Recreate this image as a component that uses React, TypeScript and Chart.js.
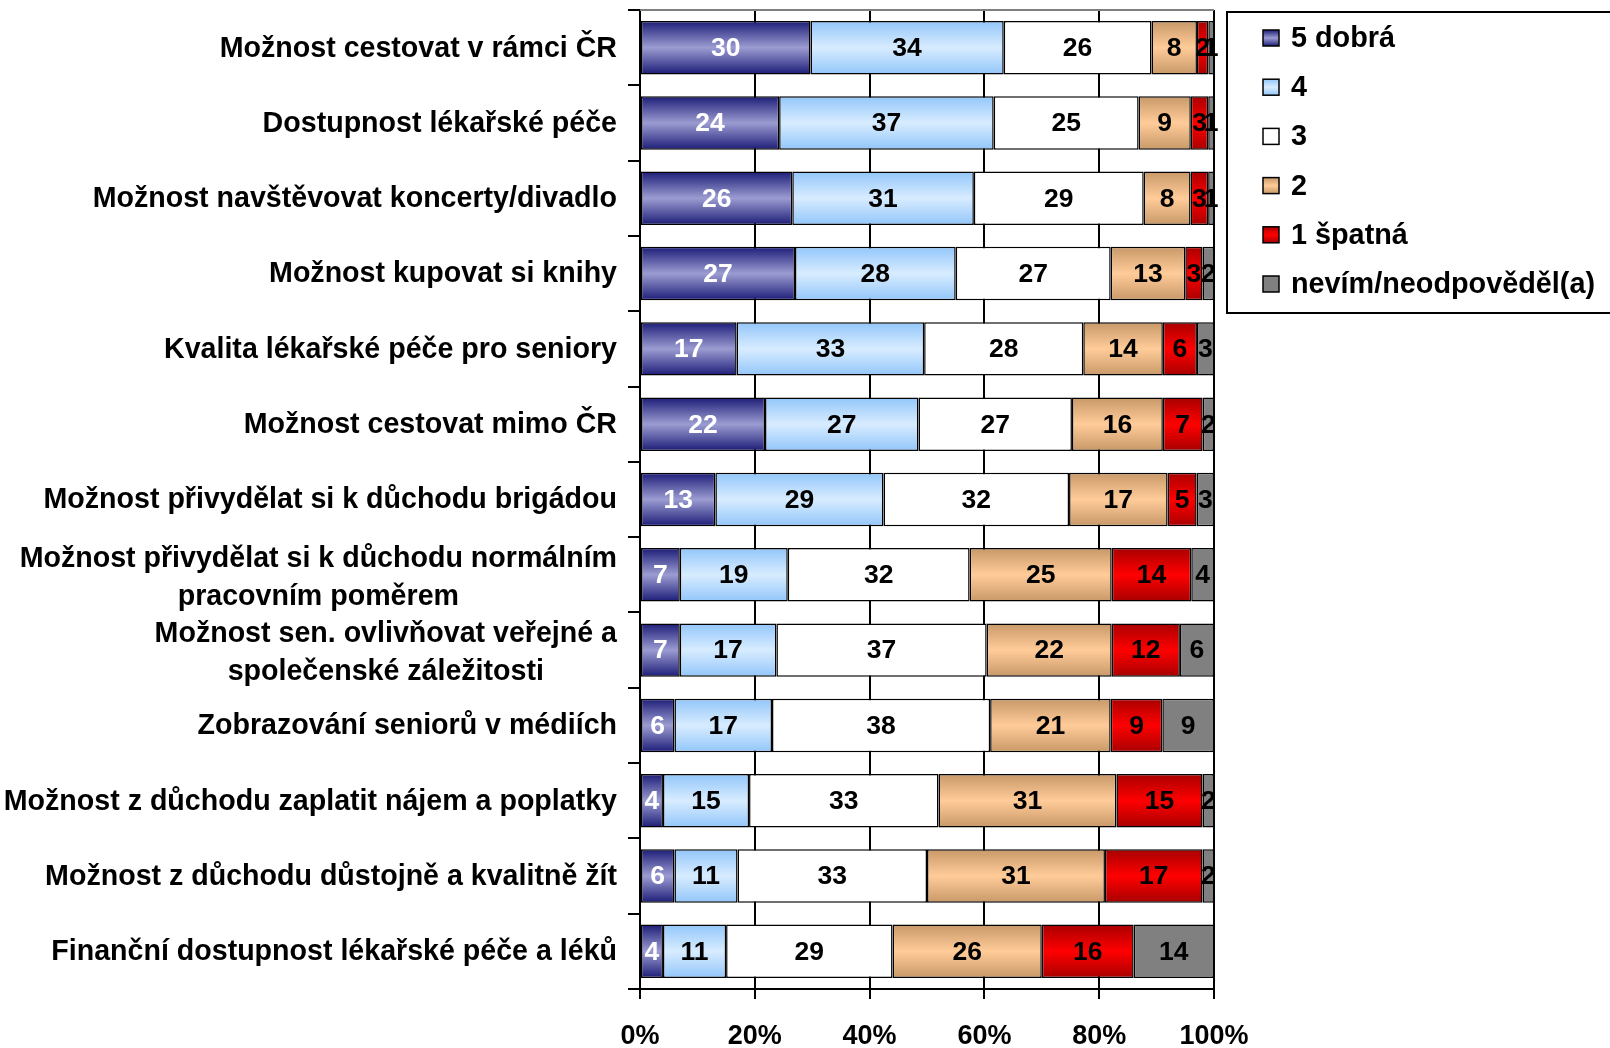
import React, { useEffect, useRef } from "react";
import { Chart, registerables } from "chart.js";

Chart.register(...registerables);

const categories: (string | string[])[] = [
  "Možnost cestovat v rámci ČR",
  "Dostupnost lékařské péče",
  "Možnost navštěvovat koncerty/divadlo",
  "Možnost kupovat si knihy",
  "Kvalita lékařské péče pro seniory",
  "Možnost cestovat mimo ČR",
  "Možnost přivydělat si k důchodu brigádou",
  ["Možnost přivydělat si k důchodu normálním", "pracovním poměrem"],
  ["Možnost sen. ovlivňovat veřejné a", "společenské záležitosti"],
  "Zobrazování seniorů v médiích",
  "Možnost z důchodu zaplatit nájem a poplatky",
  "Možnost z důchodu důstojně a kvalitně žít",
  "Finanční dostupnost lékařské péče a léků",
];

const seriesNames = ["5 dobrá", "4", "3", "2", "1 špatná", "nevím/neodpověděl(a)"];

const grade5 = [30, 24, 26, 27, 17, 22, 13, 7, 7, 6, 4, 6, 4];
const grade4 = [34, 37, 31, 28, 33, 27, 29, 19, 17, 17, 15, 11, 11];
const grade3 = [26, 25, 29, 27, 28, 27, 32, 32, 37, 38, 33, 33, 29];
const grade2 = [8, 9, 8, 13, 14, 16, 17, 25, 22, 21, 31, 31, 26];
const grade1 = [2, 3, 3, 3, 6, 7, 5, 14, 12, 9, 15, 17, 16];
const dontKnow = [1, 1, 1, 2, 3, 2, 3, 4, 6, 9, 2, 2, 14];

const xTicks = [0, 20, 40, 60, 80, 100];

const seriesValues = [grade5, grade4, grade3, grade2, grade1, dontKnow];

// [edge colour, middle colour]
const seriesColors: [string, string][] = [
  ["#1c1c78", "#9c9cd2"],
  ["#92c6fa", "#d8ecff"],
  ["#ffffff", "#ffffff"],
  ["#c89868", "#ffcc99"],
  ["#a80000", "#ff0000"],
  ["#808080", "#808080"],
];

const labelColors = ["#ffffff", "#000000", "#000000", "#000000", "#000000", "#000000"];

const FONT = "'Liberation Sans', Arial, Helvetica, sans-serif";
const BAR_PCT = 0.71;

const rowTotals = categories.map((_, i) =>
  seriesValues.reduce((s, arr) => s + arr[i], 0)
);

function gradient(ctx: CanvasRenderingContext2D, y0: number, y1: number, colors: [string, string]) {
  const g = ctx.createLinearGradient(0, y0, 0, y1);
  g.addColorStop(0, colors[0]);
  g.addColorStop(0.5, colors[1]);
  g.addColorStop(1, colors[0]);
  return g;
}

const makeBg = (colors: [string, string]) => (c: any) => {
  const chart = c.chart;
  const ys = chart.scales && chart.scales.y;
  if (!ys || c.dataIndex === undefined || !isFinite(ys.height)) return colors[1];
  const cy = ys.getPixelForValue(c.dataIndex);
  const h = (ys.height / categories.length) * BAR_PCT;
  return gradient(chart.ctx, cy - h / 2, cy + h / 2, colors);
};

const segLabelPlugin = {
  id: "segLabels",
  afterDatasetsDraw(chart: any) {
    const ctx = chart.ctx;
    ctx.save();
    ctx.font = `bold 26.5px ${FONT}`;
    ctx.textAlign = "center";
    ctx.textBaseline = "middle";
    chart.data.datasets.forEach((ds: any, di: number) => {
      const meta = chart.getDatasetMeta(di);
      meta.data.forEach((el: any, i: number) => {
        const { x, y, base } = el.getProps(["x", "y", "base"], true);
        ctx.fillStyle = labelColors[di];
        ctx.fillText(String(seriesValues[di][i]), (x + base) / 2, y + 1);
      });
    });
    ctx.restore();
  },
};

const yLabelPlugin = {
  id: "yLabels",
  afterDraw(chart: any) {
    const ys = chart.scales.y;
    const ctx = chart.ctx;
    ctx.save();
    ctx.font = `bold 28.6px ${FONT}`;
    ctx.fillStyle = "#000";
    ctx.textBaseline = "middle";
    ctx.textAlign = "center";
    const right = ys.right - 23;
    categories.forEach((lab, i) => {
      const lines = Array.isArray(lab) ? lab : [lab];
      const w = Math.max(...lines.map((l) => ctx.measureText(l).width));
      const cx = right - w / 2;
      const cy = ys.getPixelForValue(i) + (lines.length > 1 ? 3 : 1);
      const lh = 38;
      lines.forEach((l, k) => ctx.fillText(l, cx, cy + (k - (lines.length - 1) / 2) * lh));
    });
    ctx.restore();
  },
};

const framePlugin = {
  id: "frame",
  beforeDatasetsDraw(chart: any) {
    const { ctx, chartArea } = chart;
    ctx.save();
    ctx.strokeStyle = "#808080";
    ctx.lineWidth = 2;
    ctx.beginPath();
    ctx.moveTo(chartArea.left, chartArea.top);
    ctx.lineTo(chartArea.right, chartArea.top);
    ctx.stroke();
    ctx.restore();
  },
};

const legendPlugin = {
  id: "boxLegend",
  afterDraw(chart: any) {
    const { ctx, chartArea } = chart;
    ctx.save();
    const left = chartArea.right + 13;
    ctx.strokeStyle = "#000";
    ctx.lineWidth = 2;
    ctx.strokeRect(left, 12, 420, 301);
    ctx.font = `bold 28.8px ${FONT}`;
    ctx.textBaseline = "middle";
    ctx.textAlign = "left";
    seriesNames.forEach((name, i) => {
      const cy = 38 + i * 49.2;
      const s = 16;
      const mx = left + 36;
      ctx.fillStyle = gradient(ctx, cy - s / 2, cy + s / 2, seriesColors[i]);
      ctx.fillRect(mx, cy - s / 2, s, s);
      ctx.lineWidth = 1.5;
      ctx.strokeStyle = "#000";
      ctx.strokeRect(mx, cy - s / 2, s, s);
      ctx.fillStyle = "#000";
      ctx.fillText(name, left + 64, cy + 1);
    });
    ctx.restore();
  },
};

export default function App() {
  const ref = useRef<HTMLCanvasElement | null>(null);

  useEffect(() => {
    if (!ref.current) return;
    const chart = new Chart(ref.current, {
      type: "bar",
      data: {
        labels: categories.map((c) => (Array.isArray(c) ? c.join(" ") : c)),
        datasets: seriesNames.map((name, di) => ({
          label: name,
          data: seriesValues[di].map((v, i) => (v / rowTotals[i]) * 100),
          backgroundColor: makeBg(seriesColors[di]),
          borderColor: "#000",
          borderWidth: 1.5,
          borderSkipped: false,
          barPercentage: BAR_PCT,
          categoryPercentage: 1,
        })),
      },
      options: {
        indexAxis: "y",
        responsive: false,
        animation: false,
        layout: { padding: { left: 0, right: 396, top: 10, bottom: 0 } },
        plugins: {
          legend: { display: false },
          tooltip: { enabled: false },
        },
        scales: {
          x: {
            type: "linear",
            stacked: true,
            min: 0,
            max: 100,
            afterBuildTicks: (s: any) => {
              s.ticks = xTicks.map((v) => ({ value: v }));
            },
            afterFit: (s: any) => {
              s.height = 59;
            },
            ticks: {
              callback: (v: any) => `${v}%`,
              font: { family: FONT, size: 27, weight: "bold" },
              color: "#000",
              padding: 21,
              maxRotation: 0,
            },
            grid: {
              color: "#000",
              lineWidth: 2,
              drawTicks: true,
              tickLength: 10,
              tickColor: "#000",
              tickWidth: 2,
            },
            border: { display: true, color: "#000", width: 2 },
          },
          y: {
            type: "category",
            stacked: true,
            offset: true,
            afterFit: (s: any) => {
              s.width = 640;
            },
            ticks: { display: false },
            grid: {
              offset: true,
              drawOnChartArea: false,
              drawTicks: true,
              tickLength: 12,
              color: "#000",
              lineWidth: 2,
            },
            border: { display: true, color: "#000", width: 2 },
          },
        },
      },
      plugins: [framePlugin, segLabelPlugin, yLabelPlugin, legendPlugin],
    } as any);
    return () => chart.destroy();
  }, []);

  return (
    <div style={{ position: "absolute", left: 0, top: 0, width: 1610, height: 1048, background: "#fff" }}>
      <canvas ref={ref} width={1610} height={1048} style={{ width: 1610, height: 1048, display: "block" }} />
    </div>
  );
}
